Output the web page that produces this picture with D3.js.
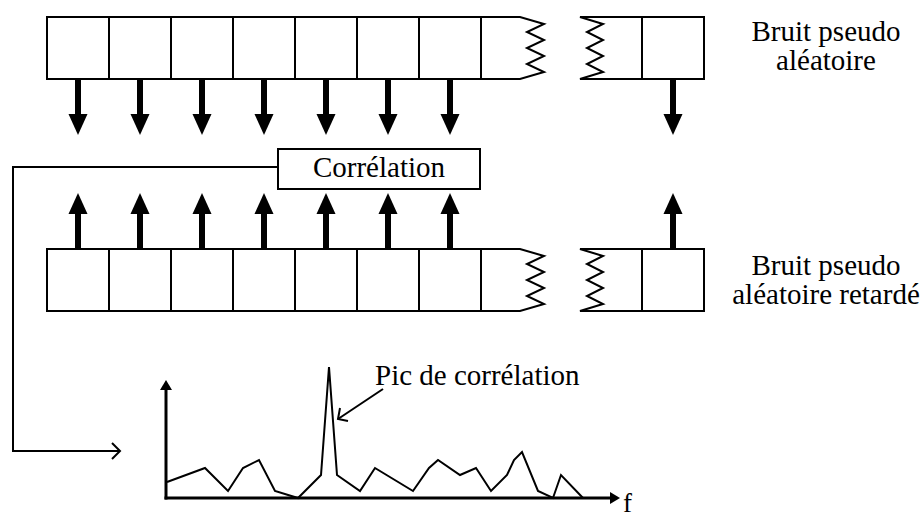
<!DOCTYPE html>
<html><head><meta charset="utf-8">
<script src="https://cdn.jsdelivr.net/npm/d3@7"></script>
</head><body style="margin:0">
<svg id="c" width="922" height="520" style="display:block;background:#fff"></svg>
<script>
// ---- data ----
const cellIndex = [0, 1, 2, 3, 4, 5, 6];          // full cells before the break
const tapIndex = [0, 1, 2, 3, 4, 5, 6];           // cells with a tap arrow
const registerLabels = [["Bruit pseudo", "aléatoire"], ["Bruit pseudo", "aléatoire retardé"]];
const boxLabel = "Corrélation";
const peakLabel = "Pic de corrélation";
const axisLabel = "f";
const freq = [1, 39, 62, 77, 93, 109, 132, 155, 163, 171, 194, 209, 247, 263, 272, 294, 310, 325, 341, 348, 356, 372, 387, 395, 417];
const amp  = [16, 30, 7, 30, 38, 7, 0, 23, 131, 23, 7, 30, 7, 30, 38, 23, 30, 7, 23, 38, 46, 7, 0, 23, 0];

// ---- drawing ----
const svg = d3.select("#c");
const cellX = d3.scaleLinear().domain([0, 1]).range([47, 109]);
const regTop = [17, 249], regH = 62;

function txt(xp, yp, s, size, anchor) {
  return svg.append("text").attr("x", xp).attr("y", yp).attr("text-anchor", anchor || "start")
    .attr("font-family", "Liberation Serif").attr("font-size", size)
    .style("font-family", `"Liberation Serif"`).attr("fill", "#000").text(s);
}

function register(y0) {
  const g = svg.append("g").attr("fill", "none").attr("stroke", "#000").attr("stroke-width", 2);
  g.selectAll("rect").data(cellIndex).join("rect")
    .attr("x", d => cellX(d)).attr("y", y0).attr("width", cellX(1) - cellX(0)).attr("height", regH);
  const x7 = cellX(7);
  const zz = [[x7, y0], [520, y0], [544, y0 + 7], [527, y0 + 15], [544, y0 + 23], [527, y0 + 31], [544, y0 + 39], [527, y0 + 47], [544, y0 + 55], [520, y0 + regH], [x7, y0 + regH]];
  g.append("path").attr("d", d3.line()(zz));
  const zr = [[642, y0], [580, y0], [603, y0 + 7], [587, y0 + 15], [603, y0 + 23], [587, y0 + 31], [603, y0 + 39], [587, y0 + 47], [603, y0 + 55], [580, y0 + regH], [642, y0 + regH]];
  g.append("path").attr("d", d3.line()(zr));
  g.append("rect").attr("x", 642).attr("y", y0).attr("width", 62).attr("height", regH);
}
register(regTop[0]);
register(regTop[1]);

const tapX = tapIndex.map(i => cellX(i + 0.5)).concat([673]);
function thickArrow(x, yFrom, yTip) {
  const dir = Math.sign(yTip - yFrom);
  const hb = yTip - dir * 21;
  svg.append("line").attr("x1", x).attr("x2", x).attr("y1", yFrom).attr("y2", hb + dir * 1)
    .attr("stroke", "#000").attr("stroke-width", 6);
  svg.append("path").attr("d", d3.line()([[x - 9.5, hb], [x + 9.5, hb], [x, yTip]]) + "Z").attr("fill", "#000");
}
tapX.forEach(x => thickArrow(x, regTop[0] + regH, 135));
tapX.forEach(x => thickArrow(x, regTop[1], 193));

svg.append("rect").attr("x", 278).attr("y", 149).attr("width", 202).attr("height", 40)
  .attr("fill", "#fff").attr("stroke", "#000").attr("stroke-width", 2);
txt(379, 177, boxLabel, 29, "middle");

svg.append("path").attr("d", d3.line()([[278, 167], [13, 167], [13, 451], [120, 451]]))
  .attr("fill", "none").attr("stroke", "#000").attr("stroke-width", 2);
svg.append("path").attr("d", d3.line()([[112, 443], [120, 451], [112, 459]]))
  .attr("fill", "none").attr("stroke", "#000").attr("stroke-width", 2);

registerLabels.forEach((lines, k) => {
  const base = k === 0 ? 41 : 275;
  lines.forEach((t, j) => txt(826, base + j * 29, t, 29, "middle"));
});

const x = d3.scaleLinear().domain([0, 454]).range([166, 620]);
const y = d3.scaleLinear().domain([0, 118]).range([498, 380]);
const pts = freq.map((f, i) => [f, amp[i]]);
svg.append("path").datum(pts)
  .attr("d", d3.line().x(d => x(d[0])).y(d => y(d[1])))
  .attr("fill", "none").attr("stroke", "#000").attr("stroke-width", 2);
svg.append("line").attr("x1", x(0)).attr("x2", x(0)).attr("y1", y(0) + 1.5).attr("y2", y(108))
  .attr("stroke", "#000").attr("stroke-width", 3);
svg.append("path").attr("d", d3.line()([[x(0) - 6, y(108)], [x(0) + 6, y(108)], [x(0), y(118)]]) + "Z").attr("fill", "#000");
svg.append("line").attr("x1", x(0) - 1.5).attr("x2", x(444)).attr("y1", y(0)).attr("y2", y(0))
  .attr("stroke", "#000").attr("stroke-width", 3);
svg.append("path").attr("d", d3.line()([[x(444), y(0) - 6], [x(444), y(0) + 6], [x(454), y(0)]]) + "Z").attr("fill", "#000");
txt(623, 512, axisLabel, 27);

txt(375, 385, peakLabel, 29);
svg.append("line").attr("x1", 383).attr("y1", 389).attr("x2", 338).attr("y2", 419)
  .attr("stroke", "#000").attr("stroke-width", 2);
svg.append("path").attr("d", d3.line()([[340, 408], [338, 419], [348, 421]]))
  .attr("fill", "none").attr("stroke", "#000").attr("stroke-width", 2);
</script>
</body></html>
